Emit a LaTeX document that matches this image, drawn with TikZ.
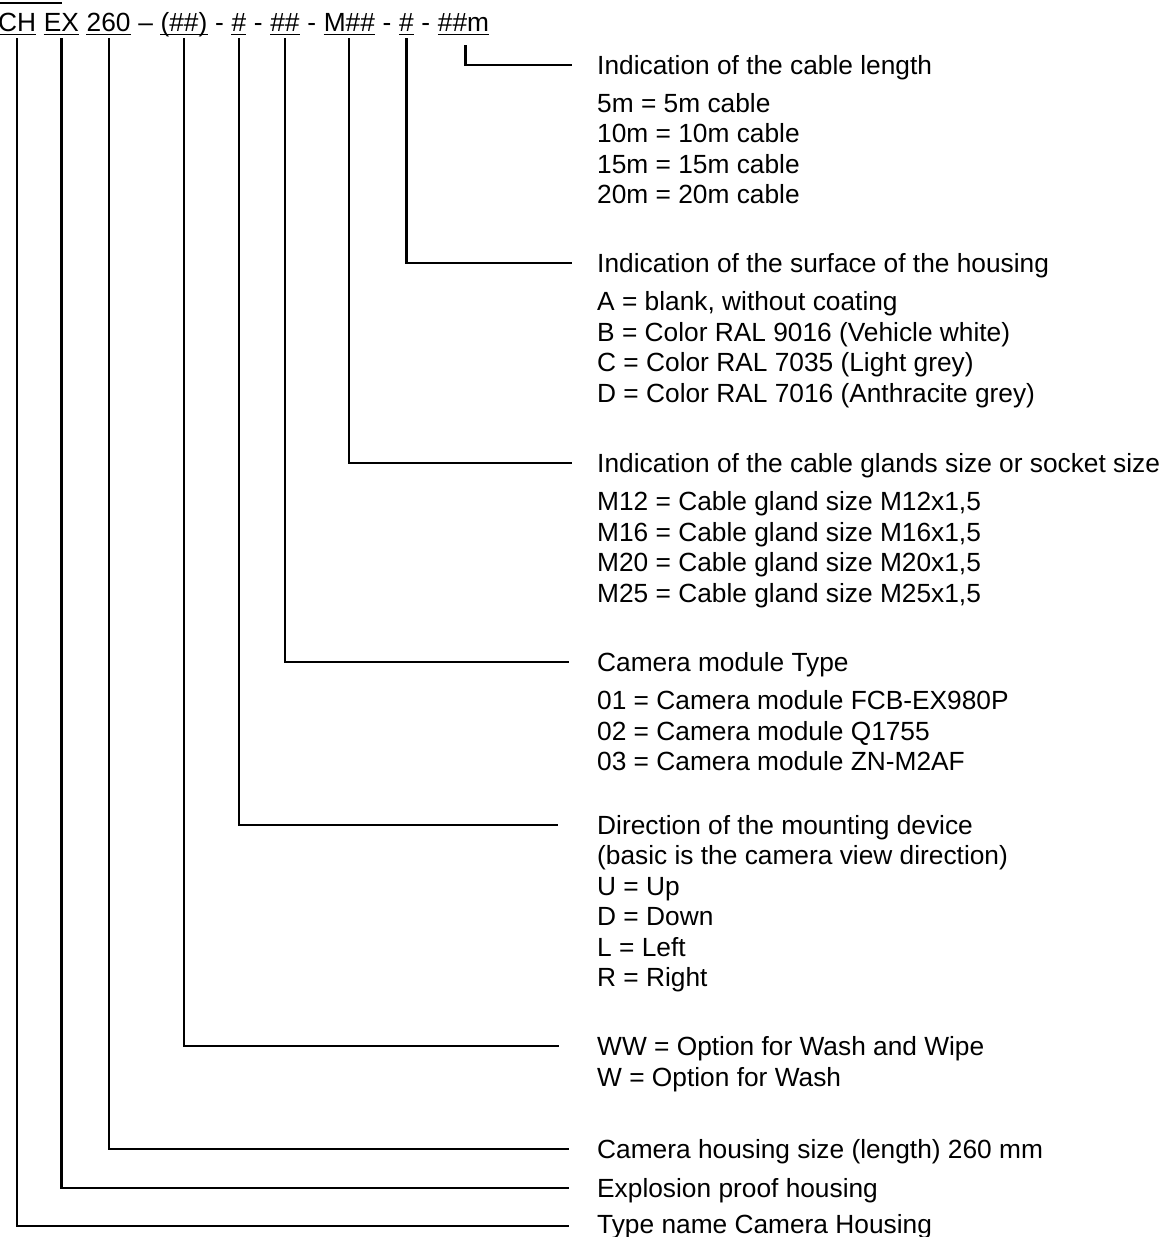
\documentclass[tikz,border=0pt]{standalone}
\usepackage{fontspec}
\setmainfont{Liberation Sans}
\newcommand\myfont{\fontsize{26.3pt}{30.5pt}\selectfont}
\begin{document}
\begin{tikzpicture}[x=1pt,y=-1pt,
  tok/.style={anchor=base west, inner sep=0pt, text depth=0pt, font=\myfont},
  lab/.style={anchor=base west, inner sep=0pt, font=\myfont},
  ln/.style={line width=2.2pt},
  ul/.style={line width=1.8pt}]
\useasboundingbox (0,0) rectangle (1167,1237);

% ---- heading (type code) ----
\node[tok] (ch)  at (-2,31) {CH};
\node[tok] (ex)  at ([xshift=7.31pt]ch.base east) {EX};
\node[tok] (sz)  at ([xshift=7.31pt]ex.base east) {260};
\node[tok] (d1)  at ([xshift=7.31pt]sz.base east) {--};
\node[tok] (ww)  at ([xshift=7.31pt]d1.base east) {(\#\#)};
\node[tok] (d2)  at ([xshift=7.31pt]ww.base east) {-};
\node[tok] (dir) at ([xshift=7.31pt]d2.base east) {\#};
\node[tok] (d3)  at ([xshift=7.31pt]dir.base east) {-};
\node[tok] (mod) at ([xshift=7.31pt]d3.base east) {\#\#};
\node[tok] (d4)  at ([xshift=7.31pt]mod.base east) {-};
\node[tok] (gl)  at ([xshift=7.31pt]d4.base east) {M\#\#};
\node[tok] (d5)  at ([xshift=7.31pt]gl.base east) {-};
\node[tok] (su)  at ([xshift=7.31pt]d5.base east) {\#};
\node[tok] (d6)  at ([xshift=7.31pt]su.base east) {-};
\node[tok] (len) at ([xshift=7.31pt]d6.base east) {\#\#m};

\foreach \n in {ch,ex,sz,ww,dir,mod,gl,su,len}
  \draw[ul] ([yshift=-3.5pt]\n.base west) -- ([yshift=-3.5pt]\n.base east);
\draw[ul] ([yshift=28pt]ch.base west) -- ++(64,0);

% ---- explanations ----
\node[lab] (l1)  at (597,74)    {Indication of the cable length};
\node[lab] (l1a) at (597,112)   {5m = 5m cable};
\node[lab] (l1b) at (597,142.5) {10m = 10m cable};
\node[lab] (l1c) at (597,173)   {15m = 15m cable};
\node[lab] (l1d) at (597,203.5) {20m = 20m cable};

\node[lab] (l2)  at (597,272)   {Indication of the surface of the housing};
\node[lab] (l2a) at (597,310.5) {A = blank, without coating};
\node[lab] (l2b) at (597,341)   {B = Color RAL 9016 (Vehicle white)};
\node[lab] (l2c) at (597,371.5) {C = Color RAL 7035 (Light grey)};
\node[lab] (l2d) at (597,402)   {D = Color RAL 7016 (Anthracite grey)};

\node[lab] (l3)  at (597,472)   {Indication of the cable glands size or socket size};
\node[lab] (l3a) at (597,510.5) {M12 = Cable gland size M12x1,5};
\node[lab] (l3b) at (597,541)   {M16 = Cable gland size M16x1,5};
\node[lab] (l3c) at (597,571.5) {M20 = Cable gland size M20x1,5};
\node[lab] (l3d) at (597,602)   {M25 = Cable gland size M25x1,5};

\node[lab] (l4)  at (597,671)   {Camera module Type};
\node[lab] (l4a) at (597,709.5) {01 = Camera module FCB-EX980P};
\node[lab] (l4b) at (597,740)   {02 = Camera module Q1755};
\node[lab] (l4c) at (597,770.5) {03 = Camera module ZN-M2AF};

\node[lab] (l5)  at (597,834)   {Direction of the mounting device};
\node[lab] (l5a) at (597,864.5) {(basic is the camera view direction)};
\node[lab] (l5b) at (597,895)   {U = Up};
\node[lab] (l5c) at (597,925.5) {D = Down};
\node[lab] (l5d) at (597,956)   {L = Left};
\node[lab] (l5e) at (597,986.5) {R = Right};

\node[lab] (l6)  at (597,1055)  {WW = Option for Wash and Wipe};
\node[lab] (l6a) at (597,1086)  {W = Option for Wash};

\node[lab] (l7)  at (597,1158)  {Camera housing size (length) 260 mm};
\node[lab] (l8)  at (597,1197)  {Explosion proof housing};
\node[lab] (l9)  at (597,1233)  {Type name Camera Housing};

% ---- connectors ----
\draw[ln] ([xshift=2pt,yshift=-14pt]len.south) |- ([xshift=-25pt,yshift=9pt]l1.base west);
\draw[ln] ([yshift=-7pt]su.south)  |- ([xshift=-25pt,yshift=9pt]l2.base west);
\draw[ln] ([yshift=-7pt]gl.south)  |- ([xshift=-25pt,yshift=9pt]l3.base west);
\draw[ln] ([yshift=-7pt]mod.south) |- ([xshift=-28pt,yshift=9pt]l4.base west);
\draw[ln] ([yshift=-7pt]dir.south) |- ([xshift=-39pt,yshift=9pt]l5.base west);
\draw[ln] ([yshift=-7pt]ww.south)  |- ([xshift=-38pt,yshift=9pt]l6.base west);
\draw[ln] ([yshift=-7pt]sz.south)  |- ([xshift=-28pt,yshift=9pt]l7.base west);
\draw[ln] ([yshift=-7pt]ex.south)  |- ([xshift=-28pt,yshift=9pt]l8.base west);
\draw[ln] ([yshift=-7pt]ch.south)  |- ([xshift=-28pt,yshift=7pt]l9.base west);
\end{tikzpicture}
\end{document}
